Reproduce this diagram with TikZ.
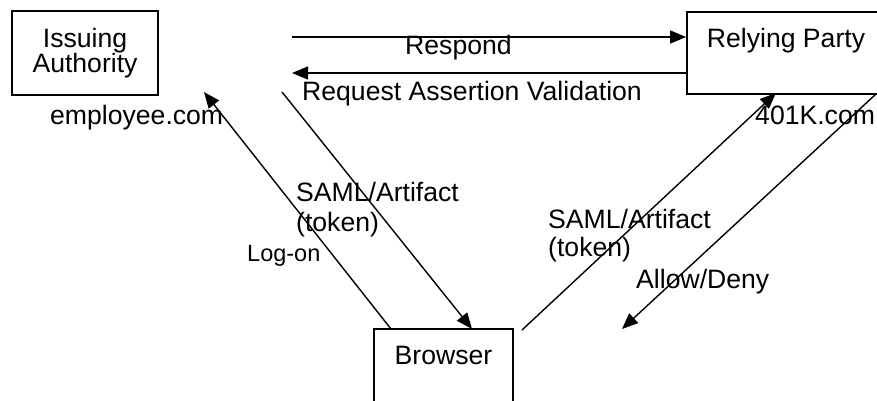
\documentclass[tikz,border=0pt]{standalone}
\usepackage{fontspec}
\setmainfont{Liberation Sans}
\usetikzlibrary{arrows.meta}
\tikzset{
  party/.style={draw, line width=1.8pt, rectangle, inner sep=0pt},
  txt/.style={anchor=base west, inner sep=0pt, font=\fontsize{26.6}{30}\selectfont},
  ctxt/.style={anchor=base, inner sep=0pt, font=\fontsize{26.6}{30}\selectfont},
  small/.style={font=\fontsize{23.5}{28}\selectfont},
  flow/.style={line width=1.4pt, -{Triangle[length=16pt,width=13pt]}},
}
\begin{document}
\begin{tikzpicture}[x=1pt, y=-1pt]
  \useasboundingbox (0,0) rectangle (877,400);
  \clip (0,0) rectangle (877,400);

  % the three parties
  \node[party, minimum width=146pt, minimum height=84pt] (issuer) at (85,53) {};
  \node[party, minimum width=220pt, minimum height=82pt] (rp) at (797,53) {};
  \node[party, minimum width=139pt, minimum height=100pt] (browser) at (443.5,379) {};

  \node[ctxt] (issuer-l1) at (85,47) {Issuing};
  \node[ctxt] (issuer-l2) at (85,72) {Authority};
  \node[ctxt] (rp-l1) at (786,47) {Relying Party};
  \node[ctxt] (browser-l1) at (443.5,364) {Browser};

  \node[txt] (issuer-dom) at (50,124) {employee.com};
  \node[txt] (rp-dom) at (755,124) {401K.com};

  % free ends of the connectors
  \coordinate (resp-from) at (292,37);
  \coordinate (resp-to) at (rp.west |- resp-from);
  \coordinate (req-to) at (292,73);
  \coordinate (req-from) at (rp.west |- req-to);
  \coordinate (logon-from) at (391,329);
  \coordinate (logon-to) at (204,92);
  \coordinate (tokA-from) at (282,92);
  \coordinate (tokA-to) at (472,329);
  \coordinate (tokB-from) at (522,330);
  \coordinate (tokB-to) at (776,93);
  \coordinate (allow-from) at (876,94);
  \coordinate (allow-to) at (622,329);

  % messages
  \draw[flow] (resp-from) -- (resp-to);
  \draw[flow] (req-from) -- (req-to);
  \draw[flow] (logon-from) -- (logon-to);
  \draw[flow] (tokA-from) -- (tokA-to);
  \draw[flow] (tokB-from) -- (tokB-to);
  \draw[flow] (allow-from) -- (allow-to);

  % message labels
  \node[txt] (respond-lbl) at (405,54) {Respond};
  \node[txt] (request-lbl) at (302,100) {Request Assertion Validation};
  \node[txt] (tokA-l1) at (296,201) {SAML/Artifact};
  \node[txt] (tokA-l2) at (296,231) {(token)};
  \node[txt, small] (logon-lbl) at (247,261) {Log-on};
  \node[txt] (tokB-l1) at (548,228) {SAML/Artifact};
  \node[txt] (tokB-l2) at (548,256) {(token)};
  \node[txt] (allow-lbl) at (636,288) {Allow/Deny};
\end{tikzpicture}
\end{document}
